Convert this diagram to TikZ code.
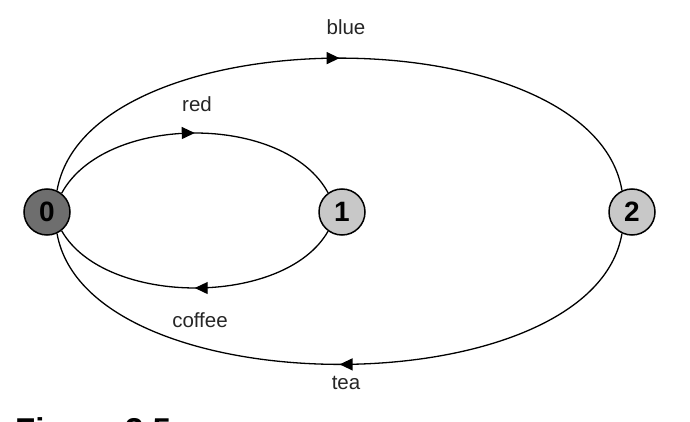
\documentclass[tikz,border=0pt]{standalone}
\usepackage{fontspec}
\setmainfont{Liberation Sans}
\usetikzlibrary{decorations.markings,arrows.meta}
\definecolor{darkst}{HTML}{6E6E6E}
\definecolor{lightst}{HTML}{C8C8C8}
\tikzset{
  x=1pt,y=-1pt,
  state/.style={circle,draw=black,line width=1.5pt,minimum size=46pt,inner sep=0pt,font=\bfseries\fontsize{28}{30}\selectfont},
  edge/.style={line width=1.3pt,postaction={decorate},decoration={markings,mark=at position 0.5 with {\arrow{Triangle[length=13pt,width=12pt]}}}},
  lbl/.style={font=\fontsize{20.5}{22}\selectfont,text=black!85}
}
\begin{document}
\begin{tikzpicture}
\clip (0,0) rectangle (690,422);
\fill[white] (0,0) rectangle (690,422);
\node[state,fill=darkst] (n0) at (47,212) {0};
\node[state,fill=lightst] (n1) at (342,212) {1};
\node[state,fill=lightst] (n2) at (632,212) {2};
\draw[edge] (n0.65) .. controls (88,14) and (592,14) .. (n2.115);
\draw[edge] (n0.52) .. controls (105,113) and (285,113) .. (n1.126);
\draw[edge] (n1.234) .. controls (285,307) and (105,307) .. (n0.-52);
\draw[edge] (n2.245) .. controls (592,408) and (88,408) .. (n0.-65);
\node[lbl] (lblue) at (346,27) {blue};
\node[lbl] (lred) at (197,104) {red};
\node[lbl] (lcoffee) at (200,320) {coffee};
\node[lbl] (ltea) at (346,383) {tea};
\node[anchor=base west,inner sep=0pt,font=\bfseries\fontsize{33}{35}\selectfont] (cap) at (15,441) {Figure 3.5};
\end{tikzpicture}
\end{document}
